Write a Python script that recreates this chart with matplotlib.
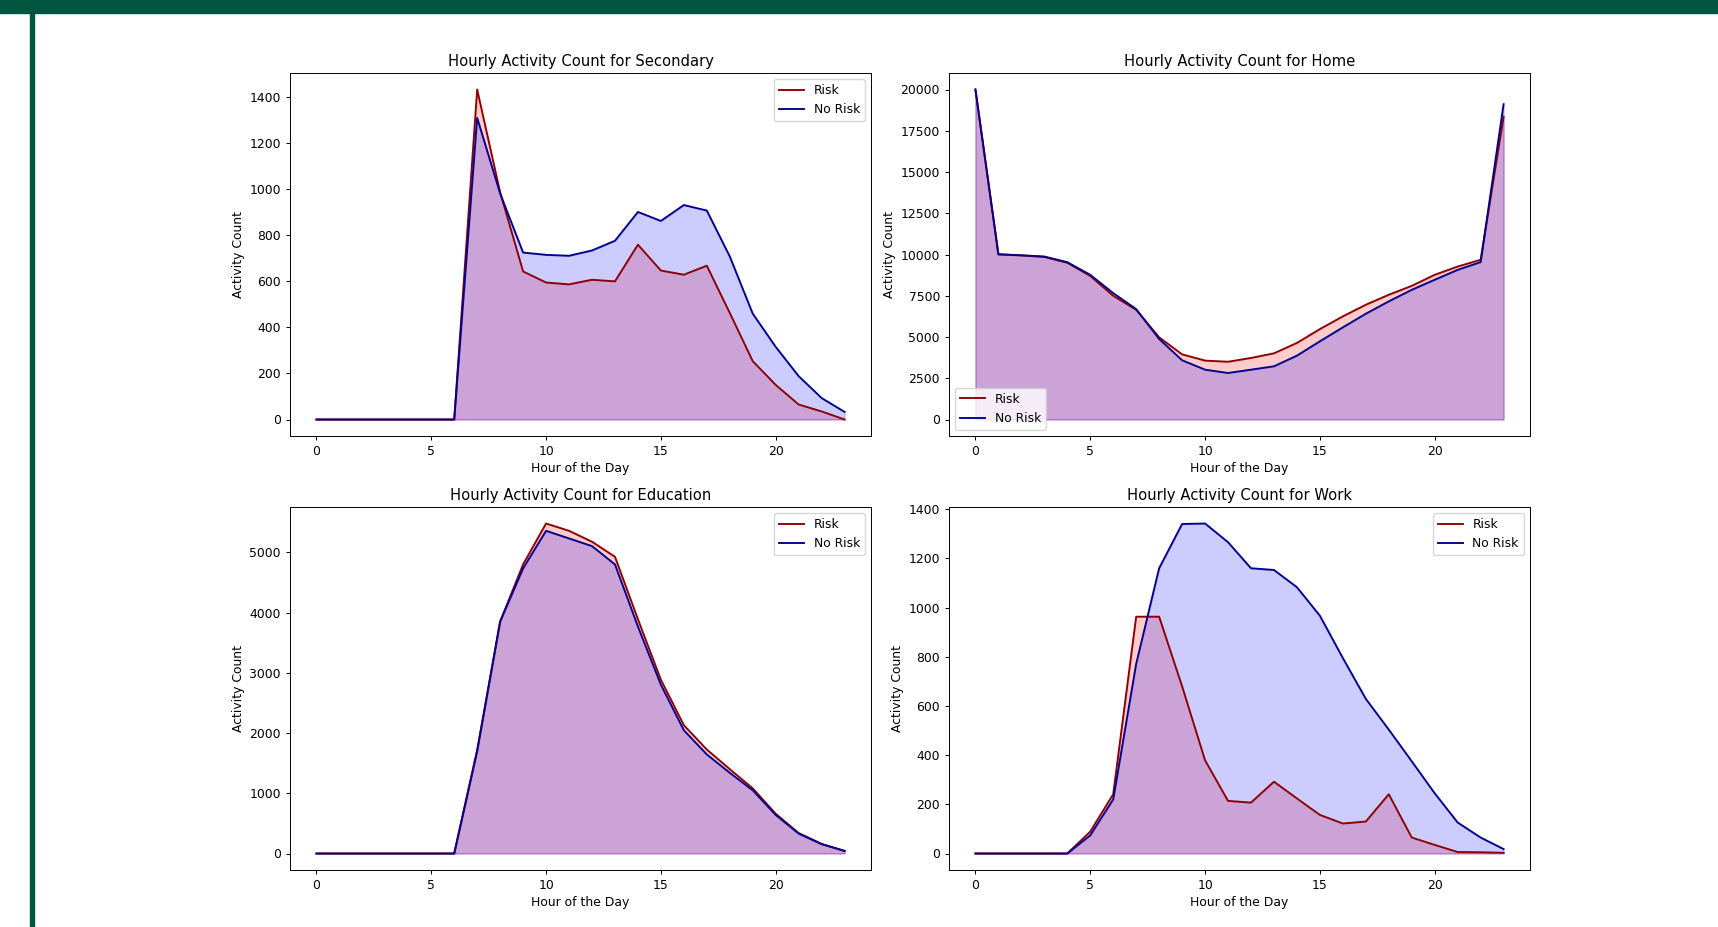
import matplotlib
matplotlib.use("Agg")
import matplotlib.pyplot as plt
from matplotlib.patches import Rectangle

hours = list(range(24))

secondary_risk = [0, 0, 0, 0, 0, 0, 0, 1431, 985, 642, 594, 586, 606, 599, 758, 646,
                  628, 667, 462, 253, 150, 65, 35, 0]
secondary_norisk = [0, 0, 0, 0, 0, 0, 0, 1308, 980, 724, 714, 710, 733, 775, 900, 861,
                    930, 906, 707, 459, 315, 188, 93, 33]

home_risk = [20000, 10000, 9950, 9850, 9500, 8700, 7500, 6650, 4980, 3950, 3570, 3500,
             3730, 4010, 4640, 5480, 6250, 6955, 7560, 8100, 8770, 9270, 9680, 18350]
home_norisk = [20000, 10020, 9950, 9880, 9536, 8770, 7660, 6694, 4880, 3590, 3020, 2820,
               3020, 3225, 3870, 4740, 5585, 6410, 7160, 7860, 8470, 9070, 9540, 19110]

education_risk = [0, 0, 0, 0, 0, 0, 0, 1720, 3852, 4801, 5480, 5359, 5177, 4928, 3890,
                  2886, 2130, 1727, 1400, 1082, 660, 340, 160, 40]
education_norisk = [0, 0, 0, 0, 0, 0, 0, 1700, 3852, 4735, 5359, 5232, 5105, 4801, 3769,
                    2803, 2047, 1645, 1340, 1049, 640, 330, 155, 45]

work_risk = [0, 0, 0, 0, 0, 89, 241, 963, 963, 680, 379, 214, 207, 292, 224, 157,
             122, 130, 241, 65, 35, 6, 5, 3]
work_norisk = [0, 0, 0, 0, 0, 74, 220, 771, 1160, 1340, 1342, 1266, 1160, 1153, 1083,
               967, 795, 629, 504, 375, 245, 126, 65, 18]

categories = ["Secondary", "Home", "Education", "Work"]
risk_series = [secondary_risk, home_risk, education_risk, work_risk]
norisk_series = [secondary_norisk, home_norisk, education_norisk, work_norisk]
legend_locs = ["upper right", "lower left", "upper right", "upper right"]

W, H = 1718, 927
fig = plt.figure(figsize=(W / 100, H / 100), dpi=100)

# slide decorations
green = "#02563F"
fig.patches.append(Rectangle((0, 1 - 13 / H), 1, 13 / H, transform=fig.transFigure,
                             color=green, zorder=0))
fig.patches.append(Rectangle((30 / W, 0), 3.5 / W, 1 - 13 / H, transform=fig.transFigure,
                             color=green, zorder=0))

lefts = [290, 949, 290, 949]
tops = [73, 73, 507, 507]
aw, ah = 581, 363
fs = 8.9

for i, cat in enumerate(categories):
    l, t = lefts[i], tops[i]
    ax = fig.add_axes([l / W, 1 - (t + ah) / H, aw / W, ah / H])
    r = risk_series[i]
    n = norisk_series[i]
    ax.plot(hours, r, color="darkred", lw=1.35, label="Risk")
    ax.fill_between(hours, r, color="red", alpha=0.2)
    ax.plot(hours, n, color="darkblue", lw=1.35, label="No Risk")
    ax.fill_between(hours, n, color="blue", alpha=0.2)
    ax.set_title(f"Hourly Activity Count for {cat}", fontsize=10.6, pad=5)
    ax.set_xlabel("Hour of the Day", fontsize=fs, labelpad=3)
    ax.set_ylabel("Activity Count", fontsize=fs, labelpad=3)
    ax.tick_params(labelsize=fs, length=3, width=0.7)
    for s in ax.spines.values():
        s.set_linewidth(0.7)
    ax.legend(loc=legend_locs[i], fontsize=fs, handlelength=2.0)

fig.savefig("out.png", dpi=100)
